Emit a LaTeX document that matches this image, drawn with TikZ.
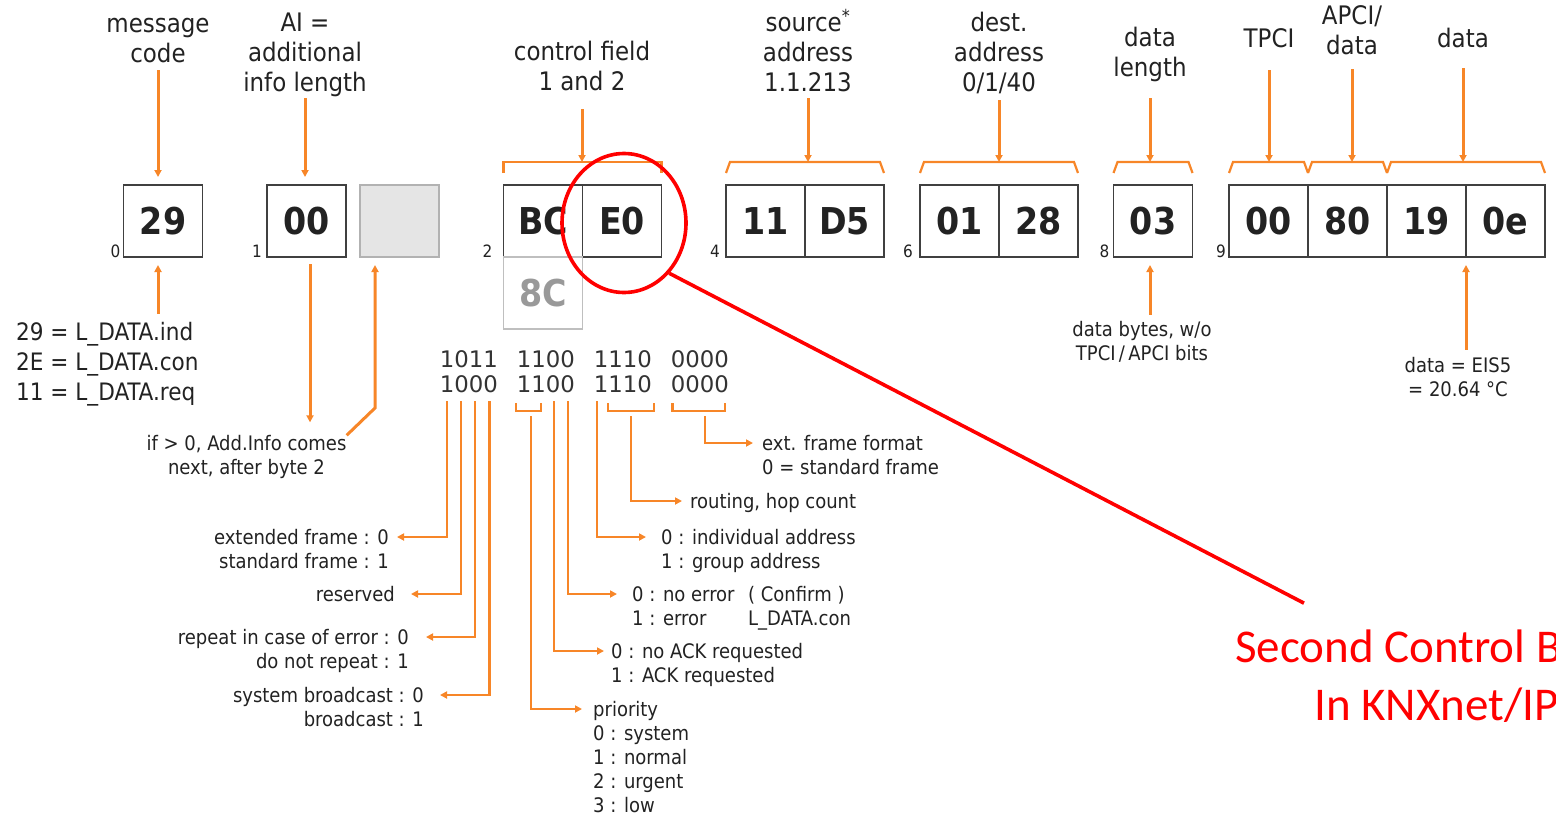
\documentclass[tikz,border=0pt]{standalone}
\usepackage{fontspec}
\setmainfont{DejaVu Sans Condensed}
\newfontfamily\bitfont{DejaVu Sans}
\newfontfamily\calloutfont{Carlito}
\usetikzlibrary{arrows.meta,positioning,shapes.geometric,calc}
\definecolor{knxorange}{RGB}{247,134,40}
\definecolor{knxred}{RGB}{255,0,0}
\definecolor{knxtext}{RGB}{34,34,34}

% bracket over a group of byte boxes, #3 = name of its top left corner
\newcommand{\fieldbrace}[3]{%
  \draw[brk] ([yshift=12pt]#1.north west) -- ++(4,11) coordinate (#3) -- ([shift={(-4,23)}]#2.north east) -- ++(4,-11);}

\begin{document}
\begin{tikzpicture}[x=1pt,y=1pt,
    byte/.style={draw=black!75,line width=1.2pt,minimum width=79pt,minimum height=72pt,inner sep=0pt,outer sep=0pt,text=knxtext,font=\bfseries\fontsize{37}{40}\selectfont},
    ghost/.style={byte,draw=black!25,text=black!40},
    idx/.style={font=\fontsize{17}{17}\selectfont,text=knxtext,inner sep=0pt},
    head/.style={font=\fontsize{25.5}{30}\selectfont,align=center,text=knxtext,inner sep=0pt,anchor=mid,yshift=-5pt},
    note/.style={font=\fontsize{20}{24}\selectfont,text=knxtext,inner sep=0pt,yshift=-5pt},
    codes/.style={font=\fontsize{24}{30}\selectfont,text=knxtext,inner sep=0pt,align=left,yshift=-5pt},
    bits/.style={font=\bitfont\fontsize{22.8}{25}\selectfont,text=black!80,inner sep=0pt,align=left,yshift=-4pt},
    callout/.style={font=\calloutfont\fontsize{47}{58}\selectfont,text=knxred,inner sep=0pt},
    lead/.style={draw=knxorange,line width=3pt},
    bitlead/.style={draw=knxorange,line width=2.4pt},
    brk/.style={draw=knxorange,line width=2.2pt},
    tip/.style={-{Triangle[length=7pt,width=7pt]}},
    tipin/.style={{Triangle[length=7pt,width=7pt]}-},
    hl/.style={draw=knxred,line width=3.6pt}
  ]
  \useasboundingbox (0,0) rectangle (1556,-822);
  \clip (0,0) rectangle (1556,-822);

  % byte boxes
  \node[byte] (b29) at (163,-221) {29};
  \node[byte] (b00) at (306.5,-221) {00};
  \node[byte,draw=black!30,fill=black!10] (gap) at (399.5,-221) {};
  \node[byte] (bBC) at (543,-221) {BC};
  \node[byte,right=0pt of bBC] (bE0) {E0};
  \node[ghost,below=0pt of bBC] (b8C) {8C};
  \node[byte] (b11) at (765.5,-221) {11};
  \node[byte,right=0pt of b11] (bD5) {D5};
  \node[byte] (b01) at (959.5,-221) {01};
  \node[byte,right=0pt of b01] (b28) {28};
  \node[byte] (b03) at (1153,-221) {03};
  \node[byte] (b00t) at (1268.5,-221) {00};
  \node[byte,right=0pt of b00t] (b80) {80};
  \node[byte,right=0pt of b80] (b19) {19};
  \node[byte,right=0pt of b19] (b0e) {0e};
  \foreach \n/\i/\d in {b29/0/3,b00/1/5,bBC/2/11,b11/4/6,b01/6/7,b03/8/4,b00t/9/3}
    \node[idx,anchor=base east] (i\i) at ([xshift=-\d pt]\n.south west) {\i};

  % field names (anchored on their last line)
  \node[head] (hmsg) at (158,-55) {message\\code};
  \node[head] (hai) at (305,-84) {AI =\\additional\\info length};
  \node[head] (hctl) at (582,-83) {control field\\1 and 2};
  \node[head] (hsrc) at (808,-84) {source\textsuperscript{*}\\address\\1.1.213};
  \node[head] (hdst) at (999,-84) {dest.\\address\\0/1/40};
  \node[head] (hlen) at (1150,-69) {data\\length};
  \node[head] (htpci) at (1269,-40) {TPCI};
  \node[head] (hapci) at (1352,-47) {APCI/\\data};
  \node[head] (hdata) at (1463,-40) {data};

  \draw[brk] ([yshift=12pt]bBC.north west) -- ++(0,11) coordinate (tctl) -| ([yshift=12pt]bE0.north east);
  \fieldbrace{b11}{bD5}{tsrc}
  \fieldbrace{b01}{b28}{tdst}
  \fieldbrace{b03}{b03}{tlen}
  \fieldbrace{b00t}{b00t}{ttpci}
  \fieldbrace{b80}{b80}{tapci}
  \fieldbrace{b19}{b0e}{tdata}

  \draw[lead,tip] ([yshift=-7pt]hmsg.south) -- ($(hmsg.south |- b29.north)+(0,8)$);
  \draw[lead,tip] ([yshift=-1pt]hai.south) -- ($(hai.south |- b00.north)+(0,8)$);
  \draw[lead,tip] ([yshift=-18pt]hctl.south) -- (hctl.south |- tctl);
  \draw[lead,tip] ([yshift=-6pt]hsrc.south) -- (hsrc.south |- tsrc);
  \draw[lead,tip] ([yshift=-6pt]hdst.south) -- (hdst.south |- tdst);
  \draw[lead,tip] ([yshift=-16pt]hlen.south) -- (hlen.south |- tlen);
  \draw[lead,tip] ([yshift=-22pt]htpci.south) -- (htpci.south |- ttpci);
  \draw[lead,tip] ([yshift=-14pt]hapci.south) -- (hapci.south |- tapci);
  \draw[lead,tip] ([yshift=-20pt]hdata.south) -- (hdata.south |- tdata);

  % below the bytes
  \node[codes,anchor=mid west] (hcodes) at (16,-393) {29 = L\_DATA.ind\\2E = L\_DATA.con\\11 = L\_DATA.req};
  \draw[lead,tipin] ($(b29.south)+(-5,-8)$) -- ($(hcodes.north -| b29.south)+(-5,8)$);
  \node[note,align=center,anchor=mid] (hinfo) at (246.5,-467) {if > 0, Add.Info comes\\next, after byte 2};
  \draw[lead,tip] ($(b00.south)+(3.5,-7)$) -- ($(hinfo.north -| b00.south)+(3.5,13)$);
  \draw[lead,tipin] ($(gap.south)+(-24.5,-8)$) -- ($(gap.south)+(-24.5,-151)$) -- (hinfo.north east);
  \node[note,align=center,anchor=mid] (nlen) at (1142,-353) {data bytes, w/o\\TPCI\,/\,APCI bits};
  \draw[lead,tipin] ($(b03.south)+(-3,-8)$) -- ($(nlen.north -| b03.south)+(-3,6)$);
  \node[note,align=center,anchor=mid] (neis) at (1458,-389) {data = EIS5\\= 20.64 °C};
  \draw[lead,tipin] ($(b19.south east)+(0,-8)$) -- ($(neis.north -| b19.south east)+(0,7)$);

  % control field bits
  \foreach \hi/\lo [count=\i] in {1011/1000,1100/1100,1110/1110,0000/0000}
    \node[bits,anchor=mid] (g\i) at ({469+77*(\i-1)},-386) {\hi\\\lo};

  \node[note,align=right,anchor=mid east] (nfrm) at (389,-561) {extended frame : 0\\standard frame : 1};
  \node[note,anchor=mid east] (nres) at (395,-594) {reserved};
  \node[note,align=right,anchor=mid east] (nrep) at (409,-661) {repeat in case of error : 0\\do not repeat : 1};
  \node[note,align=right,anchor=mid east] (nsys) at (424,-719) {system broadcast : 0\\broadcast : 1};
  \draw[bitlead,tip] ($(g1.south)+(-22.3,-8)$) |- ([shift={(8,29)}]nfrm.mid east);
  \draw[bitlead,tip] ($(g1.south)+(-8,-8)$) |- ([shift={(16,5)}]nres.mid east);
  \draw[bitlead,tip] ($(g1.south)+(6,-8)$) |- ([shift={(17,29)}]nrep.mid east);
  \draw[bitlead,tip] ($(g1.south)+(20.3,-8)$) |- ([shift={(16,29)}]nsys.mid east);

  \node[note,align=left,anchor=mid west] (next) at (762,-467) {ext. frame format\\0 = standard frame};
  \node[note,anchor=mid west] (nhop) at (690,-501) {routing, hop count};
  \node[note,align=left,anchor=mid west] (nadr) at (661,-561) {0 : individual address\\1 : group address};
  \node[note,align=left,anchor=mid west] (nerr) at (632,-618) {\makebox[116pt][l]{0 : no error}( Confirm )\\\makebox[116pt][l]{1 : error}L\_DATA.con};
  \node[note,align=left,anchor=mid west] (nack) at (611,-675) {0 : no ACK requested\\1 : ACK requested};
  \node[note,align=left,anchor=mid west] (nprio) at (593,-805) {priority\\0 : system\\1 : normal\\2 : urgent\\3 : low};

  \draw[brk] ($(g2.south)+(-30,-10)$) -- ++(0,-8) -| ($(g2.south)+(-5,-10)$);
  \draw[brk] ($(g3.south)+(-15,-10)$) -- ++(0,-8) -| ($(g3.south)+(31,-10)$);
  \draw[brk] ($(g4.south)+(-27.5,-10)$) -- ++(0,-8) -| ($(g4.south)+(25,-10)$);
  \draw[bitlead,tip] ($(g2.south)+(-15,-23)$) |- ([shift={(-11,101)}]nprio.mid west);
  \draw[bitlead,tip] ($(g2.south)+(8,-8)$) |- ([shift={(-7,29)}]nack.mid west);
  \draw[bitlead,tip] ($(g2.south)+(22,-8)$) |- ([shift={(-15,29)}]nerr.mid west);
  \draw[bitlead,tip] ($(g3.south)+(-26,-8)$) |- ([shift={(-15,29)}]nadr.mid west);
  \draw[bitlead,tip] ($(g3.south)+(8,-23)$) |- ([shift={(-8,5)}]nhop.mid west);
  \draw[bitlead,tip] ($(g4.south)+(5,-23)$) |- ([shift={(-9,29)}]next.mid west);

  % red call-out
  \node[hl,ellipse,minimum width=124pt,minimum height=139pt,inner sep=0pt] (ring) at (624,-223) {};
  \node[callout,anchor=base west] (cap1) at (1235,-662) {Second Control B};
  \node[callout,anchor=base west] (cap2) at (1314,-720) {In KNXnet/IP};
  \coordinate (tail) at ($(cap1.north west)+(69,26)$);
  \draw[hl] (ring.-48) -- (tail);
\end{tikzpicture}
\end{document}
